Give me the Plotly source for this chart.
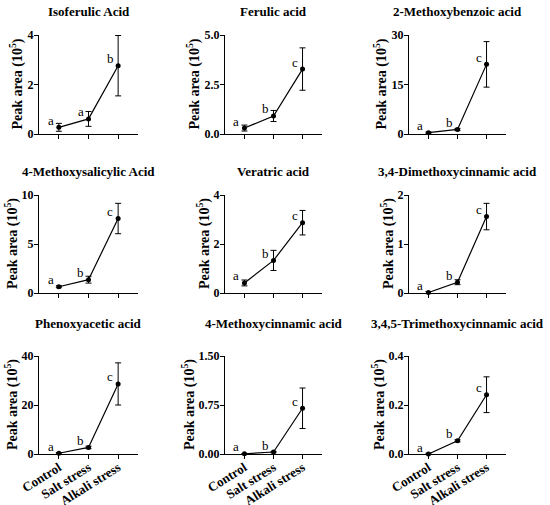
import plotly.graph_objects as go
from plotly.subplots import make_subplots

# Data (peak area, x10^5)
treatments = ["Control", "Salt stress", "Alkali stress"]
compounds = ["Isoferulic Acid", "Ferulic acid", "2-Methoxybenzoic acid",
             "4-Methoxysalicylic Acid", "Veratric acid", "3,4-Dimethoxycinnamic acid",
             "Phenoxyacetic acid", "4-Methoxycinnamic acid", "3,4,5-Trimethoxycinnamic acid"]
means = [[0.27, 0.61, 2.76], [0.30, 0.91, 3.28], [0.4, 1.4, 21.1],
         [0.64, 1.36, 7.6], [0.41, 1.33, 2.87], [0.01, 0.22, 1.56],
         [0.3, 2.7, 28.6], [0.003, 0.03, 0.70], [0.0, 0.054, 0.242]]
errors = [[0.16, 0.30, 1.22], [0.15, 0.28, 1.07], [0.2, 0.3, 6.9],
          [0.1, 0.35, 1.55], [0.12, 0.41, 0.50], [0.02, 0.05, 0.27],
          [0.3, 0.5, 8.6], [0.005, 0.01, 0.31], [0.003, 0.004, 0.073]]
letters = [["a", "a", "b"], ["a", "b", "c"], ["a", "b", "c"],
           ["a", "b", "c"], ["a", "b", "c"], ["a", "b", "c"],
           ["a", "b", "c"], ["a", "b", "c"], ["a", "b", "c"]]
y_ticks = [[0, 2, 4], [0, 2.5, 5], [0, 15, 30],
           [0, 5, 10], [0, 2, 4], [0, 1, 2],
           [0, 20, 40], [0, 0.75, 1.5], [0, 0.2, 0.4]]
y_fmt = ["d", ".1f", "d", "d", "d", "d", "d", ".2f", ".1f"]

W, H = 550, 505
serif = "Liberation Serif"

# panel placement in pixels: x ranges per column, y ranges per row, title y per row
col_px = [(39, 138), (225, 322), (409, 506)]
row_px = [(35, 134), (195, 293), (356, 454)]
title_y = [11, 171, 323]

fig = make_subplots(rows=3, cols=3)

for k, name in enumerate(compounds):
    r, c = k // 3, k % 3
    fig.add_trace(go.Scatter(
        x=[0, 1, 2], y=means[k],
        mode="lines+markers",
        line=dict(color="black", width=1.2),
        marker=dict(color="black", size=5),
        error_y=dict(type="data", array=errors[k], color="black", thickness=1, width=3),
        cliponaxis=False, showlegend=False,
    ), row=r + 1, col=c + 1)

    for i in range(3):
        fig.add_annotation(x=i, y=means[k][i], text=letters[k][i], showarrow=False,
                           xshift=-8, yshift=7, font=dict(family=serif, size=13, color="black"),
                           row=r + 1, col=c + 1)

    x0, x1 = col_px[c]
    y0, y1 = row_px[r]
    fig.update_xaxes(domain=[x0 / W, x1 / W], range=[-0.67, 2.67], automargin=False,
                     tickvals=[0, 1, 2], ticktext=treatments, showticklabels=(r == 2),
                     tickangle=-32, ticklabelstandoff=-4,
                     showline=True, linecolor="black", linewidth=1,
                     ticks="outside", ticklen=4, tickcolor="black", showgrid=False, zeroline=False,
                     tickfont=dict(family=serif, size=13, color="black", weight="bold"),
                     row=r + 1, col=c + 1)
    fig.update_yaxes(domain=[1 - y1 / H, 1 - y0 / H], range=[0, y_ticks[k][-1]], automargin=False,
                     tickvals=y_ticks[k], tickformat=y_fmt[k], ticklabelstandoff=-2,
                     showline=True, linecolor="black", linewidth=1,
                     ticks="outside", ticklen=4, tickcolor="black", showgrid=False, zeroline=False,
                     tickfont=dict(family=serif, size=12, color="black", weight="bold"),
                     row=r + 1, col=c + 1)

    # y axis title, placed just left of the tick labels
    top_label = format(y_ticks[k][-1], y_fmt[k])
    label_w = 6 * sum(ch.isdigit() for ch in top_label) + 3 * top_label.count(".")
    suffix = "" if k == 0 else str(k + 1)
    fig.add_annotation(x=0, y=0.5, xref="x" + suffix + " domain", yref="y" + suffix + " domain",
                       xanchor="center", yanchor="middle",
                       xshift=-(16 + label_w), textangle=-90, showarrow=False,
                       text="<b>Peak area (10<sup>5</sup>)</b>",
                       font=dict(family=serif, size=14, color="black"))

    fig.add_annotation(x=(x0 + x1) / 2 / W, y=1 - title_y[r] / H, xref="paper", yref="paper",
                       text="<b>" + name + "</b>", showarrow=False,
                       xanchor="center", yanchor="middle",
                       font=dict(family=serif, size=13, color="black"))

fig.update_layout(width=W, height=H, margin=dict(l=0, r=0, t=0, b=0),
                  plot_bgcolor="white", paper_bgcolor="white")

# drop the browser's default 8px body margin so the figure sits at the page corner
fig.write_html("out.html", config={"displayModeBar": False},
               post_script="document.body.style.margin='0px';")
